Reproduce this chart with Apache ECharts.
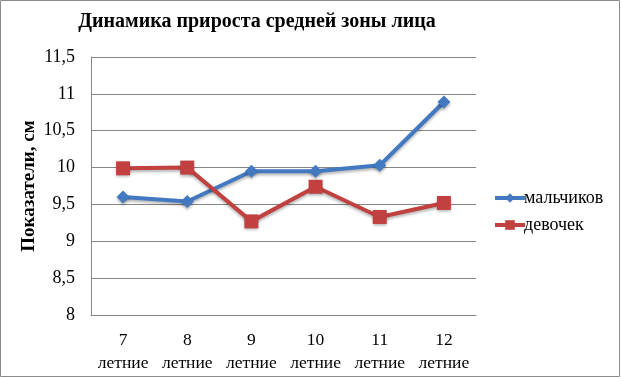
<!DOCTYPE html>
<html>
<head>
<meta charset="utf-8">
<script src="https://cdn.jsdelivr.net/npm/echarts@6/dist/echarts.min.js"></script>
<style>
  html, body { margin: 0; padding: 0; background: #fff; }
  #chart { width: 621px; height: 379px; }
</style>
</head>
<body>
<div id="chart"></div>
<script>
// data
const categories = ['7\nлетние', '8\nлетние', '9\nлетние', '10\nлетние', '11\nлетние', '12\nлетние'];
const boys = [9.6, 9.54, 9.95, 9.95, 10.03, 10.89];
const girls = [9.99, 10.0, 9.27, 9.74, 9.33, 9.52];
const seriesNames = ['мальчиков', 'девочек'];

const serif = '"Liberation Serif", "DejaVu Serif", serif';

const chart = echarts.init(document.getElementById('chart'));
chart.setOption({
  backgroundColor: '#fff',
  animation: false,
  title: {
    text: 'Динамика прироста средней зоны лица',
    left: 252,
    textAlign: 'center',
    top: 7,
    textStyle: { fontFamily: serif, fontSize: 20, fontWeight: 'bold', color: '#000' }
  },
  graphic: [{
    type: 'rect',
    shape: { x: 0.5, y: 0.5, width: 619, height: 376 },
    style: { fill: 'none', stroke: '#8c8c8c', lineWidth: 1 }
  }],
  legend: {
    orient: 'vertical',
    left: 488,
    top: 184,
    itemWidth: 30,
    itemHeight: 12,
    itemGap: 9,
    lineStyle: { width: 4 },
    textStyle: { fontFamily: serif, fontSize: 18, color: '#000', padding: [0, 0, 0, -6] },
    data: seriesNames
  },
  grid: { left: 91, right: 145, top: 57, bottom: 64 },
  xAxis: {
    type: 'category',
    data: categories,
    boundaryGap: true,
    axisLine: { lineStyle: { color: '#868686', width: 1 } },
    axisTick: { show: false },
    axisLabel: { interval: 0, fontFamily: serif, fontSize: 17.5, color: '#000', margin: 14, lineHeight: 23 }
  },
  yAxis: {
    type: 'value',
    min: 8,
    max: 11.5,
    interval: 0.5,
    name: 'Показатели, см',
    nameLocation: 'middle',
    nameGap: 52,
    nameMoveOverlap: false,
    nameTextStyle: { fontFamily: serif, fontSize: 19, fontWeight: 'bold', color: '#000' },
    axisLine: { show: true, lineStyle: { color: '#868686', width: 1 } },
    axisTick: { show: false },
    splitLine: { lineStyle: { color: '#868686', width: 1 } },
    axisLabel: {
      fontFamily: serif, fontSize: 18, color: '#000', margin: 16,
      formatter: v => String(v).replace('.', ',')
    }
  },
  series: [
    {
      name: seriesNames[0],
      type: 'line',
      data: boys,
      symbol: 'diamond',
      symbolSize: 13,
      lineStyle: { color: '#4279c0', width: 4, shadowColor: 'rgba(0,0,0,0.3)', shadowBlur: 3, shadowOffsetY: 2 },
      itemStyle: { color: '#4279c0', shadowColor: 'rgba(0,0,0,0.3)', shadowBlur: 3, shadowOffsetY: 2 }
    },
    {
      name: seriesNames[1],
      type: 'line',
      data: girls,
      symbol: 'rect',
      symbolSize: 14,
      lineStyle: { color: '#c0413f', width: 4, shadowColor: 'rgba(0,0,0,0.3)', shadowBlur: 3, shadowOffsetY: 2 },
      itemStyle: { color: '#c0413f', shadowColor: 'rgba(0,0,0,0.3)', shadowBlur: 3, shadowOffsetY: 2 }
    }
  ]
});
</script>
</body>
</html>
